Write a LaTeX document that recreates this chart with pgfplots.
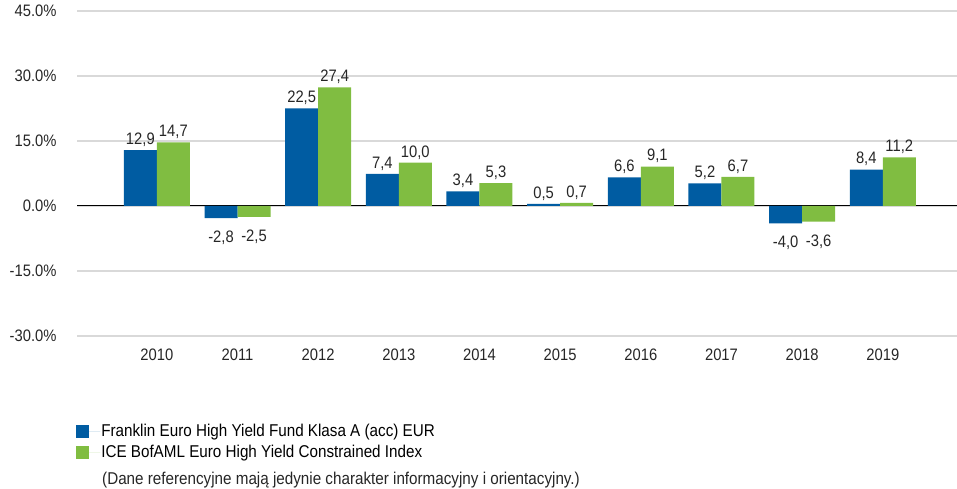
\documentclass[border=0pt]{standalone}
\usepackage{pgfplots}
\pgfplotsset{compat=1.18}
\usepackage{fontspec}
\setmainfont{Liberation Sans}[FakeStretch=0.89]
\definecolor{fblue}{RGB}{0,92,162}
\definecolor{fgreen}{RGB}{128,189,65}
\definecolor{gridgray}{RGB}{217,217,217}
\newcommand\cf{\fontsize{16.6pt}{19pt}\selectfont}
\newcommand\lf{\fontsize{17.1pt}{19pt}\selectfont}
\begin{document}
\begin{tikzpicture}[x=1pt,y=1pt]
\path[use as bounding box] (0,0) rectangle (957,-489);
\begin{axis}[
 at={(77pt,-11pt)}, anchor=north west,
 scale only axis, width=880pt, height=325pt,
 /pgf/number format/assume math mode=true,
 ybar=0pt, bar width=33pt,
 xmin=-0.99, xmax=9.92, ymin=-30, ymax=45,
 xtick={0,1,2,3,4,5,6,7,8,9},
 xticklabels={2010,2011,2012,2013,2014,2015,2016,2017,2018,2019},
 ytick={-30,-15,0,15,30,45},
 yticklabel={\pgfmathprintnumber[fixed,fixed zerofill,precision=1]{\tick}\%},
 ticklabel style={font=\cf, text=black!85},
 yticklabel style={xshift=-17pt},
 xticklabel style={yshift=-5pt},
 axis line style={draw=none}, tick style={draw=none},
 ymajorgrids, grid style={gridgray, line width=1.2pt},
 extra y ticks={0}, extra y tick labels={},
 extra y tick style={grid style={black, line width=1pt}},
 nodes near coords={\rule{0pt}{21pt}\pgfmathprintnumber[fixed,fixed zerofill,precision=1,use comma]{\pgfplotspointmeta}},
 nodes near coords style={font=\cf, text=black!85},
 legend style={at={(axis description cs:-0.001,-0.326)}, anchor=west, draw=none, fill=none, font=\lf, row sep=5pt, inner sep=0pt, nodes={inner sep=1pt}},
 legend cell align=left,
 legend image code/.code={\fill[#1] (0pt,-6.5pt) rectangle (13pt,6.5pt); \path (0pt,0pt) -- (24pt,0pt);},
]
\addplot[fill=fblue, draw=none] coordinates {(0,12.9) (1,-2.8) (2,22.5) (3,7.4) (4,3.4) (5,0.5) (6,6.6) (7,5.2) (8,-4.0) (9,8.4)};
\addplot[fill=fgreen, draw=none] coordinates {(0,14.7) (1,-2.5) (2,27.4) (3,10.0) (4,5.3) (5,0.7) (6,9.1) (7,6.7) (8,-3.6) (9,11.2)};
\legend{Franklin Euro High Yield Fund Klasa A (acc) EUR, ICE BofAML Euro High Yield Constrained Index}
\end{axis}
\node[anchor=west, inner sep=0pt, font=\lf, text=black!85] at (102,-480) {(Dane referencyjne mają jedynie charakter informacyjny i orientacyjny.)};
\end{tikzpicture}
\end{document}
